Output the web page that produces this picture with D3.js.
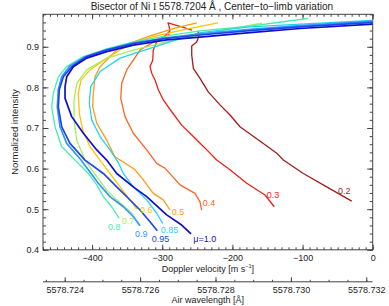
<!DOCTYPE html>
<html>
<head>
<meta charset="utf-8">
<script src="https://cdn.jsdelivr.net/npm/d3@7"></script>
<style>
body { margin: 0; background: #fff; }
text { font-family: "Liberation Sans", Arial, sans-serif; fill: #222; }
</style>
</head>
<body>
<div id="chart"></div>
<script>
// Ni I 5578.72 bisectors, centre-to-limb, velocity [m/s] vs normalized intensity
var muNames = ["0.2", "0.3", "0.4", "0.5", "0.6", "0.7", "0.8", "0.85", "0.9", "0.95", "μ=1.0"];

var bis02 = [[-29.9,0.520],[-65.6,0.555],[-98.9,0.588],[-127.4,0.621],[-136.8,0.638],[-155.9,0.662],[-189.2,0.703],[-203.4,0.732],[-217.7,0.757],[-234.4,0.789],[-246.2,0.822],[-255.7,0.847],[-258.0,0.880],[-258.0,0.902],[-250.9,0.912],[-247.6,0.927],[-249.0,0.939]];
var bis03 = [[-140.3,0.506],[-153.5,0.535],[-179.6,0.564],[-203.4,0.597],[-222.4,0.621],[-231.9,0.638],[-255.7,0.679],[-272.3,0.707],[-286.5,0.740],[-298.5,0.769],[-305.6,0.794],[-310.3,0.818],[-315.0,0.835],[-317.5,0.851],[-313.6,0.867],[-312.8,0.892],[-307.9,0.913],[-296.1,0.927],[-289.0,0.939],[-290.4,0.951],[-291.8,0.959],[-274.7,0.950],[-257.6,0.941]];
var bis04 = [[-243.8,0.498],[-246.2,0.518],[-253.3,0.539],[-274.7,0.560],[-296.1,0.601],[-307.9,0.613],[-322.2,0.646],[-341.3,0.687],[-353.1,0.728],[-359.2,0.773],[-357.8,0.810],[-350.7,0.843],[-331.7,0.892],[-310.3,0.914],[-289.0,0.932]];
var bis05 = [[-289.0,0.498],[-298.5,0.523],[-312.8,0.539],[-327.0,0.572],[-338.8,0.597],[-348.8,0.609],[-367.5,0.629],[-379.2,0.670],[-393.4,0.712],[-399.1,0.752],[-398.3,0.785],[-395.9,0.826],[-388.7,0.851],[-360.2,0.900],[-317.5,0.927],[-281.8,0.946],[-250.9,0.959]];
var bis06 = [[-336.4,0.500],[-346.0,0.523],[-360.2,0.555],[-374.5,0.588],[-387.3,0.617],[-403.0,0.654],[-413.4,0.695],[-418.2,0.736],[-419.7,0.785],[-415.8,0.818],[-403.0,0.843],[-379.2,0.872],[-360.2,0.892],[-341.3,0.907],[-317.5,0.923],[-267.5,0.943],[-220.5,0.959]];
var bis07 = [[-341.3,0.486],[-348.4,0.498],[-364.9,0.523],[-379.2,0.547],[-393.4,0.580],[-410.1,0.621],[-421.9,0.670],[-425.8,0.720],[-425.8,0.769],[-421.9,0.810],[-407.7,0.843],[-379.2,0.872],[-341.3,0.892],[-293.7,0.912],[-246.2,0.929],[-203.4,0.944],[-157.8,0.958]];
var bis08 = [[-361.6,0.478],[-372.1,0.506],[-384.0,0.531],[-393.4,0.560],[-405.4,0.588],[-423.0,0.619],[-443.3,0.654],[-452.9,0.703],[-457.6,0.752],[-455.3,0.785],[-448.2,0.826],[-436.2,0.851],[-412.5,0.876],[-379.2,0.895],[-341.3,0.912],[-293.7,0.927],[-246.2,0.939],[-174.9,0.951],[-130.0,0.961],[-92.2,0.970]];
var bis085 = [[-299.4,0.465],[-307.9,0.490],[-322.2,0.523],[-341.3,0.555],[-355.5,0.588],[-363.1,0.616],[-374.5,0.646],[-388.7,0.679],[-400.6,0.720],[-404.0,0.761],[-402.0,0.802],[-388.7,0.839],[-360.2,0.872],[-317.5,0.896],[-274.7,0.920],[-246.2,0.935],[-174.9,0.949],[-103.6,0.956],[0,0.965]];
var bis09 = [[-331.7,0.459],[-341.3,0.482],[-355.5,0.506],[-374.5,0.531],[-391.2,0.564],[-415.8,0.621],[-436.2,0.662],[-445.8,0.703],[-449.6,0.752],[-448.2,0.794],[-443.3,0.826],[-431.5,0.853],[-410.1,0.875],[-379.2,0.893],[-341.3,0.909],[-293.7,0.922],[-246.2,0.932],[-174.9,0.943],[-103.6,0.952],[0,0.963]];
var bis095 = [[-307.1,0.447],[-317.5,0.469],[-331.7,0.498],[-348.4,0.527],[-364.9,0.555],[-384.0,0.588],[-410.1,0.621],[-431.5,0.662],[-443.3,0.703],[-448.2,0.752],[-446.8,0.794],[-441.0,0.826],[-429.1,0.851],[-407.7,0.876],[-379.2,0.892],[-341.3,0.908],[-293.7,0.921],[-246.2,0.929],[-174.9,0.940],[-103.6,0.949],[0,0.960]];
var bis10 = [[-259.0,0.439],[-272.3,0.461],[-293.7,0.486],[-322.2,0.531],[-341.3,0.555],[-364.9,0.588],[-379.2,0.621],[-393.4,0.646],[-412.5,0.687],[-429.1,0.728],[-438.6,0.773],[-438.6,0.802],[-436.2,0.826],[-426.8,0.851],[-407.7,0.872],[-379.2,0.888],[-341.3,0.904],[-293.7,0.917],[-246.2,0.924],[-174.9,0.935],[-103.6,0.945],[0,0.956]];

var bisectors = [bis02, bis03, bis04, bis05, bis06, bis07, bis08, bis085, bis09, bis095, bis10];

// where each mu label sits, in data units (velocity, intensity)
var labelV = [-49.5, -151.1, -242.3, -286.5, -331.7, -357.8, -377.3, -302.2, -338.8, -315.0, -255.7];
var labelI = [0.537, 0.528, 0.508, 0.486, 0.491, 0.464, 0.449, 0.441, 0.432, 0.420, 0.420];

var velTicks = [-400, -300, -200, -100, 0];
var intTicks = [0.4, 0.5, 0.6, 0.7, 0.8, 0.9];
var waveTicks = [5578.724, 5578.726, 5578.728, 5578.730, 5578.732];

var colors = ["#a41c1c", "#ee2016", "#ff6424", "#ff9a12", "#ffc400", "#a6ee5a", "#44eeac", "#1ed6f2", "#3296ff", "#2046e6", "#1010cc"];

var lambdaZero = 5578.73217; // air wavelength at v = 0
var cLight = 299792458;

var svgWidth = 389;
var svgHeight = 306;
var margin = { top: 14.3, right: 16.3, bottom: 56.2, left: 43 };
var width = svgWidth - margin.left - margin.right;
var height = svgHeight - margin.top - margin.bottom;

var svg = d3.select("#chart")
  .append("svg")
  .attr("width", svgWidth)
  .attr("height", svgHeight);

var chartGroup = svg.append("g")
  .attr("transform", `translate(${margin.left}, ${margin.top})`);

var xScale = d3.scaleLinear().domain([-470, 0]).range([0, width]);
var yScale = d3.scaleLinear().domain([0.4, 0.98]).range([height, 0]);
var wScale = d3.scaleLinear()
  .domain(xScale.domain().map(v => lambdaZero * (1 + v / cLight)))
  .range([0, width]);

var velMinor = d3.range(-470, 1, 10);
var intMinor = d3.range(0.4, 0.981, 0.02);
var waveMinor = d3.range(5578.7235, 5578.7322, 0.0005);

function styleAxis(g) {
  g.selectAll(".domain").remove();
  g.selectAll("line").attr("stroke", "#444");
  g.selectAll("text").attr("font-size", "9px").attr("fill", "#222")
    .attr("font-family", "Liberation Sans, Arial, sans-serif");
}

// frame ticks: bottom, top, left, right
chartGroup.append("g").attr("transform", `translate(0, ${height})`)
  .call(d3.axisBottom(xScale).tickValues(velMinor).tickSize(-2.5).tickFormat("")).call(styleAxis);
chartGroup.append("g").attr("transform", `translate(0, ${height})`)
  .call(d3.axisBottom(xScale).tickValues(velTicks).tickSize(-5).tickPadding(5).tickFormat(d3.format("d"))).call(styleAxis);
chartGroup.append("g")
  .call(d3.axisTop(xScale).tickValues(velMinor).tickSize(-2.5).tickFormat("")).call(styleAxis);
chartGroup.append("g")
  .call(d3.axisTop(xScale).tickValues(velTicks).tickSize(-5).tickFormat("")).call(styleAxis);

chartGroup.append("g")
  .call(d3.axisLeft(yScale).tickValues(intMinor).tickSize(-3).tickFormat("")).call(styleAxis);
chartGroup.append("g")
  .call(d3.axisLeft(yScale).tickValues(intTicks).tickSize(-5.5).tickPadding(4).tickFormat(d3.format(".1f"))).call(styleAxis);
chartGroup.append("g").attr("transform", `translate(${width}, 0)`)
  .call(d3.axisRight(yScale).tickValues(intMinor).tickSize(-3).tickFormat("")).call(styleAxis);
chartGroup.append("g").attr("transform", `translate(${width}, 0)`)
  .call(d3.axisRight(yScale).tickValues(intTicks).tickSize(-5.5).tickFormat("")).call(styleAxis);

chartGroup.append("rect")
  .attr("width", width)
  .attr("height", height)
  .attr("fill", "none")
  .attr("stroke", "#444");

// wavelength axis below
var waveGroup = chartGroup.append("g").attr("transform", `translate(0, ${height + 32})`);
waveGroup.append("g")
  .call(d3.axisBottom(wScale).tickValues(waveMinor).tickSize(-2).tickFormat("")).call(styleAxis);
waveGroup.append("g")
  .call(d3.axisBottom(wScale).tickValues(waveTicks).tickSize(-4.5).tickPadding(4.5).tickFormat(d3.format(".3f"))).call(styleAxis);
waveGroup.append("line")
  .attr("x1", 0).attr("x2", width)
  .attr("stroke", "#444");

// curves
svg.append("defs").append("clipPath").attr("id", "plotclip")
  .append("rect").attr("width", width).attr("height", height);

var line = d3.line()
  .x(d => xScale(d[0]))
  .y(d => yScale(d[1]));

chartGroup.append("g")
  .attr("clip-path", "url(#plotclip)")
  .selectAll("path")
  .data(bisectors)
  .enter()
  .append("path")
  .attr("d", line)
  .attr("fill", "none")
  .attr("stroke", (d, i) => colors[i])
  .attr("stroke-width", (d, i) => i >= 8 ? 1.7 : 1.3)
  .attr("stroke-linejoin", "round");

chartGroup.append("g").selectAll("text")
  .data(muNames)
  .enter()
  .append("text")
  .attr("x", (d, i) => xScale(labelV[i]))
  .attr("y", (d, i) => yScale(labelI[i]))
  .attr("font-size", "9px")
  .style("fill", (d, i) => colors[i])
  .text(d => d);

// titles
var title = svg.append("text")
  .attr("x", margin.left + width / 2 + 4)
  .attr("y", 10)
  .attr("text-anchor", "middle")
  .attr("font-size", "10px");
title.append("tspan").text("Bisector of Ni ");
title.append("tspan").attr("font-family", "Liberation Serif, serif").text("I");
title.append("tspan").text(" 5578.7204 Å , Center−to−limb variation");

chartGroup.append("text")
  .attr("transform", "rotate(-90)")
  .attr("x", -height / 2)
  .attr("y", -25)
  .attr("text-anchor", "middle")
  .attr("font-size", "9.5px")
  .text("Normalized intensity");

var velTitle = chartGroup.append("text")
  .attr("x", width / 2)
  .attr("y", height + 22.2)
  .attr("text-anchor", "middle")
  .attr("font-size", "9px");
velTitle.append("tspan").text("Doppler velocity [m s");
velTitle.append("tspan").attr("font-size", "5.5px").attr("dy", -3.5).text("−1");
velTitle.append("tspan").attr("dy", 3.5).text("]");

chartGroup.append("text")
  .attr("x", width / 2)
  .attr("y", height + 53.5)
  .attr("text-anchor", "middle")
  .attr("font-size", "9px")
  .text("Air wavelength [Å]");
</script>
</body>
</html>
